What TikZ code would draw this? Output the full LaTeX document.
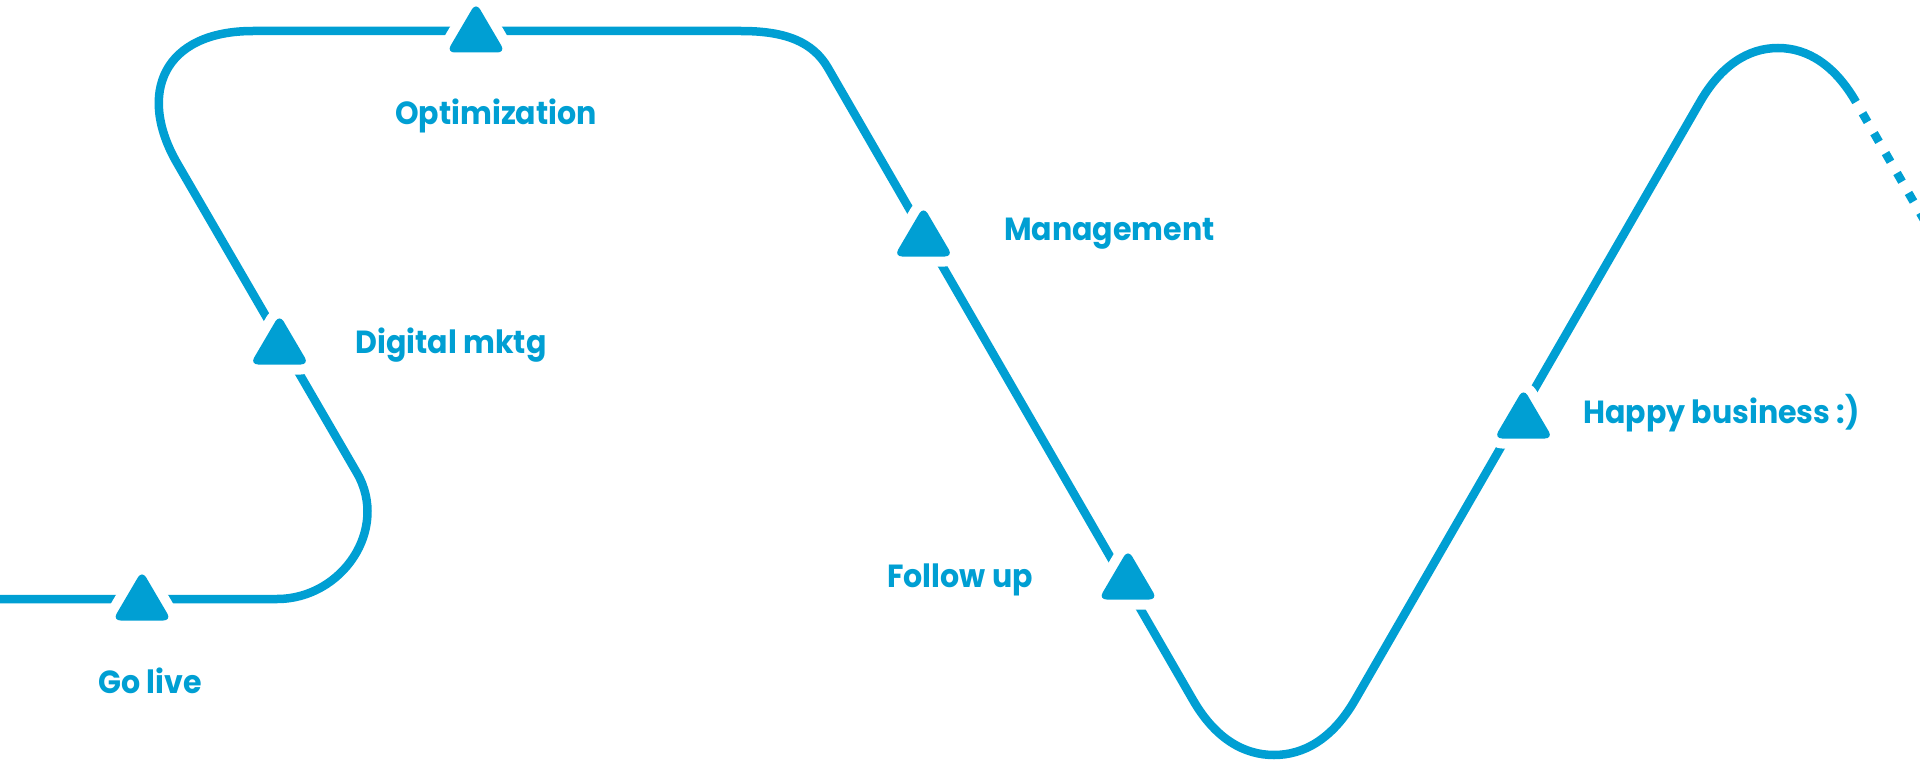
\documentclass[tikz,border=0pt]{standalone}
\usepackage{fontspec}
\setmainfont{Poppins}[FakeStretch=0.94]
\definecolor{brand}{RGB}{0,159,211}
\begin{document}
\begin{tikzpicture}[x=1pt,y=-1pt,
  route/.style={draw=brand,line width=8.5pt},
  dotted route/.style={draw=brand,line width=8.5pt,dash pattern=on 10pt off 13pt,dash phase=10pt},
  lbl/.style={text=brand,font=\fontsize{32}{38}\selectfont\bfseries,inner sep=0pt},
  marker/.pic={\path[preaction={draw=white,line width=20pt,line join=round},
     fill=brand,rounded corners=8pt] (0,-4.6) -- (29.4,45.5) -- (-29.4,45.5) -- cycle;}]
\useasboundingbox (0,0) rectangle (1920,765);
\begin{scope}
\clip (0,0) rectangle (1920,765);
% main route
\draw[route] (-10,599) -- (277,599)
  .. controls (342,599) and (389.5,529.3) .. (357,473)
  -- (177,163)
  .. controls (137,93.7) and (163,31) .. (253,31)
  -- (741,31)
  .. controls (786,31) and (813,42) .. (828,68)
  -- (1193,700)
  .. controls (1216,739.8) and (1245,755) .. (1274,755)
  .. controls (1303,755) and (1332,739.8) .. (1355,700)
  -- (1700,102)
  .. controls (1721,65.6) and (1748,48) .. (1778,48)
  .. controls (1808,48) and (1835,65.6) .. coordinate[pos=1] (dotstart) (1856,102);
\coordinate (dotend) at (1981,318.5);
\draw[dotted route] (dotstart) -- (dotend);
\end{scope}
% markers
\coordinate (m1) at (142,575);
\coordinate (m2) at (279.5,319);
\coordinate (m3) at (476,7);
\coordinate (m4) at (923.5,211);
\coordinate (m5) at (1128,554);
\coordinate (m6) at (1523.5,393);
\pic at (m1) {marker};
\pic at (m2) {marker};
\pic at (m3) {marker};
\pic at (m4) {marker};
\pic at (m5) {marker};
\pic at (m6) {marker};
% labels
\node[lbl,anchor=base] (golive) at (150,693) {Go live};
\node[lbl,anchor=base] (digital) at (451,353) {Digital mktg};
\node[lbl,anchor=base] (optim) at (496,125) {Optimization};
\node[lbl,anchor=base] (manage) at (1109.5,240) {Management};
\node[lbl,anchor=base] (follow) at (960,587) {Follow up};
\node[lbl,anchor=base] (happy) at (1721.5,423) {Happy business :)};
\end{tikzpicture}
\end{document}
